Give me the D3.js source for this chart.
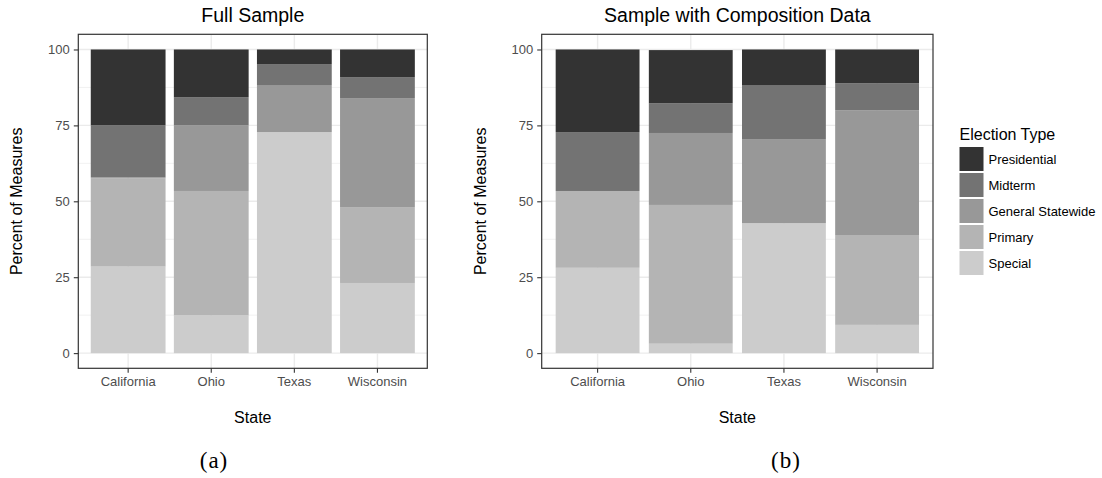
<!DOCTYPE html>
<html>
<head>
<meta charset="utf-8">
<script src="https://cdn.jsdelivr.net/npm/d3@7"></script>
<style>
  html, body { margin: 0; padding: 0; background: #ffffff; }
  svg { display: block; }
  text { font-family: "Liberation Sans", Arial, Helvetica, sans-serif; }
</style>
</head>
<body>
<svg id="chart" width="1102" height="478"></svg>
<script>
// States on the x axis
const states = ["California", "Ohio", "Texas", "Wisconsin"];

// Election types, legend order (top of stack first)
const electionTypes = ["Presidential", "Midterm", "General Statewide", "Primary", "Special"];

// Percent of measures by election type — full sample
const fullPresidential = [24.9, 15.7, 4.8, 9.1];
const fullMidterm      = [17.2, 9.2, 6.9, 6.9];
const fullGeneral      = [0.3, 21.7, 15.5, 35.9];
const fullPrimary      = [29.1, 41.0, 0.0, 25.0];
const fullSpecial      = [28.5, 12.4, 72.8, 23.1];

// Percent of measures by election type — sample with composition data
const compPresidential = [27.2, 17.5, 11.7, 11.1];
const compMidterm      = [19.4, 9.8, 17.8, 8.9];
const compGeneral      = [0.0, 23.7, 27.7, 41.1];
const compPrimary      = [25.3, 45.7, 0.0, 29.6];
const compSpecial      = [28.1, 3.1, 42.8, 9.3];

// Y axis breaks
const yTicks = [0, 25, 50, 75, 100];
const yMinor = [12.5, 37.5, 62.5, 87.5];

// Panel titles and captions
const panelTitles = ["Full Sample", "Sample with Composition Data"];
const captions = ["(a)", "(b)"];

const fillColor = d3.scaleOrdinal()
  .domain(electionTypes)
  .range(["#333333", "#737373", "#989898", "#b4b4b4", "#cccccc"]);

function buildRows(pres, mid, gen, prim, spec) {
  return states.map((s, i) => ({
    state: s,
    "Presidential": pres[i],
    "Midterm": mid[i],
    "General Statewide": gen[i],
    "Primary": prim[i],
    "Special": spec[i]
  }));
}

const panels = [
  {
    rows: buildRows(fullPresidential, fullMidterm, fullGeneral, fullPrimary, fullSpecial),
    left: 78.3, right: 427.3, title: panelTitles[0], caption: captions[0], captionX: 214
  },
  {
    rows: buildRows(compPresidential, compMidterm, compGeneral, compPrimary, compSpecial),
    left: 541.7, right: 933, title: panelTitles[1], caption: captions[1], captionX: 786
  }
];

const panelTop = 34.3, panelBottom = 368.3;
const svg = d3.select("#chart");

// Stack from the bottom: Special first, Presidential on top
const stackKeys = electionTypes.slice().reverse();
const stack = d3.stack().keys(stackKeys);

panels.forEach(p => {
  const g = svg.append("g");

  const x = d3.scaleBand()
    .domain(states)
    .range([p.left, p.right])
    .paddingInner(0.1)
    .paddingOuter(0.15);

  const y = d3.scaleLinear().domain([-5, 105]).range([panelBottom, panelTop]);

  // panel background
  g.append("rect")
    .attr("x", p.left).attr("y", panelTop)
    .attr("width", p.right - p.left).attr("height", panelBottom - panelTop)
    .attr("fill", "#ffffff");

  // minor grid
  g.selectAll("line.minor").data(yMinor).join("line")
    .attr("class", "minor")
    .attr("x1", p.left).attr("x2", p.right)
    .attr("y1", d => y(d)).attr("y2", d => y(d))
    .attr("stroke", "#ebebeb").attr("stroke-width", 0.7);

  // major grid
  g.selectAll("line.majorY").data(yTicks).join("line")
    .attr("class", "majorY")
    .attr("x1", p.left).attr("x2", p.right)
    .attr("y1", d => y(d)).attr("y2", d => y(d))
    .attr("stroke", "#ebebeb").attr("stroke-width", 1.4);

  g.selectAll("line.majorX").data(states).join("line")
    .attr("class", "majorX")
    .attr("x1", d => x(d) + x.bandwidth() / 2).attr("x2", d => x(d) + x.bandwidth() / 2)
    .attr("y1", panelTop).attr("y2", panelBottom)
    .attr("stroke", "#ebebeb").attr("stroke-width", 1.4);

  // stacked bars
  const series = stack(p.rows);
  g.selectAll("g.layer").data(series).join("g")
    .attr("class", "layer")
    .attr("fill", d => fillColor(d.key))
    .selectAll("rect").data(d => d).join("rect")
    .attr("x", d => x(d.data.state))
    .attr("width", x.bandwidth())
    .attr("y", d => y(d[1]))
    .attr("height", d => Math.max(0, y(d[0]) - y(d[1])));

  // panel border
  g.append("rect")
    .attr("x", p.left).attr("y", panelTop)
    .attr("width", p.right - p.left).attr("height", panelBottom - panelTop)
    .attr("fill", "none").attr("stroke", "#333333").attr("stroke-width", 1.2);

  // y axis
  const yAxis = d3.axisLeft(y).tickValues(yTicks).tickSize(4.5).tickPadding(4);
  const ya = g.append("g").attr("transform", `translate(${p.left},0)`).call(yAxis);
  ya.select(".domain").remove();
  ya.selectAll(".tick line").attr("stroke", "#333333").attr("stroke-width", 1.1);
  ya.selectAll(".tick text")
    .attr("fill", "#4d4d4d")
    .style("font-size", "13px")
    .style("font-family", "'Liberation Sans', Arial, sans-serif");

  // x axis
  const xAxis = d3.axisBottom(x).tickSize(4.5).tickPadding(4);
  const xa = g.append("g").attr("transform", `translate(0,${panelBottom})`).call(xAxis);
  xa.select(".domain").remove();
  xa.selectAll(".tick line").attr("stroke", "#333333").attr("stroke-width", 1.1);
  xa.selectAll(".tick text")
    .attr("fill", "#4d4d4d")
    .attr("dy", null)
    .attr("y", 18)
    .style("font-size", "13px")
    .style("font-family", "'Liberation Sans', Arial, sans-serif");

  const cx = (p.left + p.right) / 2;

  // panel title
  g.append("text")
    .attr("x", cx).attr("y", 21.7)
    .attr("text-anchor", "middle")
    .attr("fill", "#000000")
    .style("font-size", "19.5px")
    .text(p.title);

  // axis titles
  g.append("text")
    .attr("x", cx).attr("y", 423.3)
    .attr("text-anchor", "middle")
    .attr("fill", "#000000")
    .style("font-size", "16px")
    .text("State");

  g.append("text")
    .attr("transform", `translate(${p.left - 56},${(panelTop + panelBottom) / 2}) rotate(-90)`)
    .attr("text-anchor", "middle")
    .attr("fill", "#000000")
    .style("font-size", "16px")
    .text("Percent of Measures");

  // subfigure caption
  g.append("text")
    .attr("x", p.captionX).attr("y", 468)
    .attr("text-anchor", "middle")
    .attr("fill", "#000000")
    .style("font-family", "'Liberation Serif', 'DejaVu Serif', serif")
    .style("font-size", "23px")
    .style("letter-spacing", "1px")
    .text(p.caption);
});

// legend
const legend = svg.append("g").attr("transform", "translate(959.5,0)");
legend.append("text")
  .attr("x", 0).attr("y", 139.5)
  .attr("fill", "#000000")
  .style("font-size", "16px")
  .text("Election Type");

const keyTop = 147, keyStep = 26, keySize = 24;
const items = legend.selectAll("g.item").data(electionTypes).join("g")
  .attr("class", "item")
  .attr("transform", (d, i) => `translate(0,${keyTop + i * keyStep})`);
items.append("rect")
  .attr("x", 0).attr("y", 0)
  .attr("width", keySize).attr("height", keySize)
  .attr("fill", d => fillColor(d));
items.append("text")
  .attr("x", 29).attr("y", keySize / 2 + 4.8)
  .attr("fill", "#000000")
  .style("font-size", "13px")
  .text(d => d);
</script>
</body>
</html>
